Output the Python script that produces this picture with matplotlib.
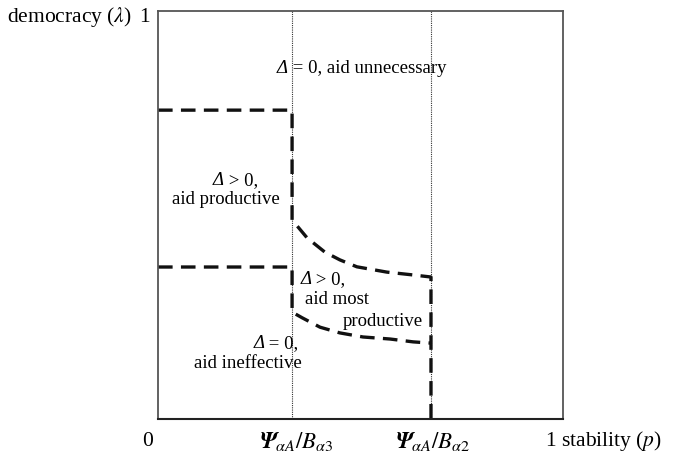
import matplotlib
matplotlib.use("Agg")
import matplotlib.pyplot as plt

plt.rcParams['font.family'] = ['Liberation Serif', 'DejaVu Serif']
plt.rcParams['mathtext.fontset'] = 'stix'

# thresholds on stability axis
p_thresholds = [0.331, 0.674]
threshold_labels = [r'$\mathbfit{\Psi}_{\alpha A}/B_{\alpha 3}$',
                    r'$\mathbfit{\Psi}_{\alpha A}/B_{\alpha 2}$']

# upper boundary
upper_level = 0.757
upper_curve_p = [0.331, 0.368, 0.412, 0.449, 0.491, 0.565, 0.630, 0.674]
upper_curve_l = [0.488, 0.444, 0.409, 0.390, 0.373, 0.360, 0.353, 0.348]

# lower boundary
lower_level = 0.3725
lower_curve_p = [0.331, 0.356, 0.400, 0.449, 0.506, 0.573, 0.630, 0.674]
lower_curve_l = [0.262, 0.248, 0.225, 0.211, 0.201, 0.196, 0.189, 0.186]

fig = plt.figure(figsize=(6.85, 4.62), dpi=100)
ax = fig.add_axes([0.2307, 0.0931, 0.5912, 0.8831])
ax.set_xlim(0, 1)
ax.set_ylim(0, 1)
ax.set_xticks([])
ax.set_yticks([])
for s in ['left', 'top', 'right']:
    ax.spines[s].set_color('#555555')
    ax.spines[s].set_linewidth(1.3)
ax.spines['bottom'].set_color('#222222')
ax.spines['bottom'].set_linewidth(1.5)

# dotted threshold lines
for pt in p_thresholds:
    ax.plot([pt, pt], [0, 1], color='#333333', lw=0.8, ls=(0, (1, 1)))

lw = 2.4
dash = (0, (10.5 / lw, 6.0 / lw))
# upper path
xs = [0, upper_curve_p[0]] + upper_curve_p + [upper_curve_p[-1]]
ys = [upper_level, upper_level] + upper_curve_l + [0]
ax.plot(xs, ys, color='#111111', lw=lw, ls=dash, dash_capstyle='butt')
# lower path
xs2 = [0, lower_curve_p[0]] + lower_curve_p
ys2 = [lower_level, lower_level] + lower_curve_l
ax.plot(xs2, ys2, color='#111111', lw=lw, ls=dash, dash_capstyle='butt')

fs_in = 13.5


def delta_label(x, y, rest):
    t = ax.text(x, y, '\u0394', fontstyle='italic', ha='left', va='center', fontsize=fs_in)
    ax.annotate(rest, xy=(1, 0.5), xycoords=t, ha='left', va='center', fontsize=fs_in)


delta_label(0.294, 0.860, ' = 0, aid unnecessary')
delta_label(0.136, 0.585, ' > 0,')
ax.text(0.168, 0.537, 'aid productive', ha='center', va='center', fontsize=fs_in)
delta_label(0.351, 0.341, ' > 0,')
ax.text(0.363, 0.292, 'aid most', ha='left', va='center', fontsize=fs_in)
ax.text(0.654, 0.238, 'productive', ha='right', va='center', fontsize=fs_in)
delta_label(0.235, 0.184, ' = 0,')
ax.text(0.222, 0.135, 'aid ineffective', ha='center', va='center', fontsize=fs_in)

fs_out = 15.5
ax.text(-0.373, 0.985, r'democracy ($\lambda$)', ha='left', va='center', fontsize=fs_out, transform=ax.transAxes)
ax.text(-0.02, 0.985, '1', ha='right', va='center', fontsize=fs_out, transform=ax.transAxes)
ax.text(-0.025, -0.054, '0', ha='center', va='center', fontsize=fs_out, transform=ax.transAxes)
label_pos = [0.343, 0.680]
for pt, lab in zip(label_pos, threshold_labels):
    ax.text(pt, -0.054, lab, ha='center', va='center', fontsize=16.5)
ax.text(0.955, -0.054, '1 stability ($p$)', ha='left', va='center', fontsize=fs_out, transform=ax.transAxes)

fig.savefig('out.png', dpi=100)
